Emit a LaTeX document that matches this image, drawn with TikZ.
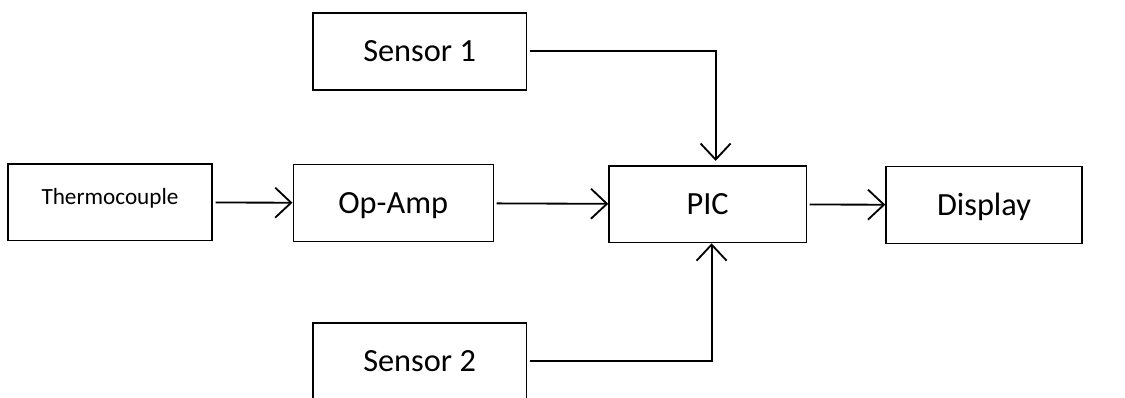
\documentclass[tikz,border=0pt]{standalone}
\usepackage{fontspec}
\setmainfont{Carlito}
\usepackage{tikz}
\usetikzlibrary{arrows.meta, calc}

\begin{document}
\begin{tikzpicture}[>={Straight Barb[length=4mm,width=7.5mm]}]

% Stili per blocchi e frecce
\tikzset{block/.style={draw, line width=1pt, minimum width=5cm, minimum height=1.92cm, text height=14.8pt, text depth=0pt, font=\fontsize{23}{26}\selectfont},
         flow/.style={->, line width=1.3pt, shorten <=2pt}}

% Area del disegno
\clip (0,0) rectangle (28.125,9.925);

% --- Riga centrale ---
\node[block, minimum width=5.1cm, text height=10.6pt, text depth=7pt, font=\fontsize{16.5}{19}\selectfont] (thermo) at (2.75,4.87) {Thermocouple};
\node[block] (opamp) at (9.83,4.85) {Op-Amp};
\node[block, minimum width=4.93cm] (pic) at (17.69,4.82) {PIC};
\node[block, minimum width=4.9cm] (display) at (24.6,4.8) {Display};

% --- Sensori ---
\node[block, minimum width=5.33cm] (sensA) at (10.49,8.64) {Sensor 1};
\node[block, minimum width=5.33cm] (sensB) at (10.49,0.89) {Sensor 2};

% Frecce
\draw[flow] (thermo) -- (opamp);
\draw[flow] (opamp) -- (pic);
\draw[flow] (pic) -- (display);
\draw[flow, shorten >=3pt] (sensA.east) -| ($(pic.north)+(0.2,0)$);
\draw[flow] (sensB.east) -| ($(pic.south)+(0.1,0)$);

\end{tikzpicture}
\end{document}
